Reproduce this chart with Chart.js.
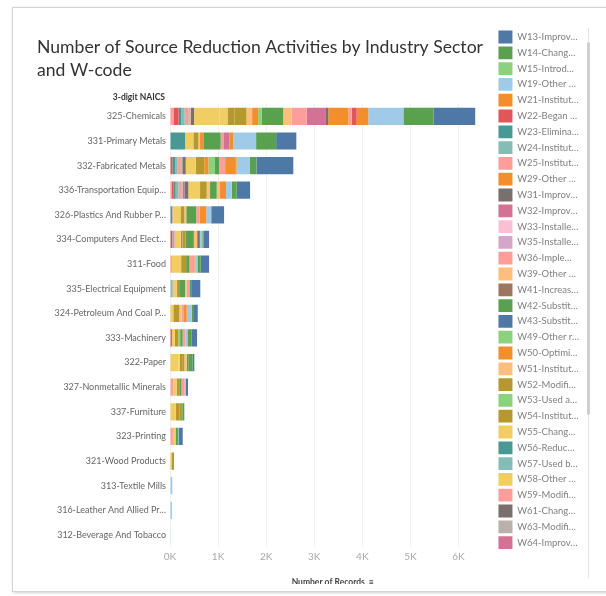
<!DOCTYPE html>
<html>
<head>
<meta charset="utf-8">
<title>Source Reduction Activities</title>
<script src="https://cdn.jsdelivr.net/npm/chart.js@4"></script>
<style>
  html, body { margin: 0; padding: 0; background: #fff; }
  body { width: 606px; height: 596px; overflow: hidden; position: relative; }
  .card { position: absolute; left: 12px; top: 7px; width: 640px; height: 583px;
          border: 1px solid #d3d3d3; box-shadow: 1px 1px 3px rgba(0,0,0,.18); background: #fff; }
  .plot { position: absolute; left: 14px; top: 9px; width: 592px; height: 575px; overflow: hidden; }
  .track { position: absolute; left: 588px; top: 28px; width: 1px; height: 550px; background: #e4e4e4; }
  .thumb { position: absolute; left: 587px; top: 42px; width: 3px; height: 373px; background: #cfcfcf; border-radius: 2px; }
</style>
</head>
<body>
<div class="card"></div>
<div class="plot"><canvas id="chart" width="592" height="582"></canvas></div>
<div class="track"></div>
<div class="thumb"></div>
<script>
// Industry sectors (3-digit NAICS), top to bottom
const sectors = [
    "325-Chemicals", "331-Primary Metals", "332-Fabricated Metals",
    "336-Transportation Equipment", "326-Plastics And Rubber Products",
    "334-Computers And Electronic Products", "311-Food", "335-Electrical Equipment",
    "324-Petroleum And Coal Products", "333-Machinery", "322-Paper",
    "327-Nonmetallic Minerals", "337-Furniture", "323-Printing", "321-Wood Products",
    "313-Textile Mills", "316-Leather And Allied Products", "312-Beverage And Tobacco"
];

// Source reduction W-codes, in legend order
const codes = [
    "W13", "W14", "W15", "W19", "W21", "W22", "W23", "W24", "W25", "W29",
    "W31", "W32", "W33", "W35", "W36", "W39", "W41", "W42", "W43", "W49",
    "W50", "W51", "W52", "W53", "W54", "W55", "W56", "W57", "W58", "W59",
    "W61", "W63", "W64", "W65", "W66", "W67", "W68", "W71", "W72", "W73",
    "W74", "W75", "W78", "W81", "W82", "W83", "W84", "W89"
];

const codeNames = [
    "Improved maintenance scheduling, recordkeeping, or procedures",
    "Changed production schedule to minimize changeovers",
    "Introduced in-line product quality monitoring",
    "Other changes in operating practices",
    "Instituted procedures to keep materials within shelf-life",
    "Began to test outdated material",
    "Eliminated shelf-life requirements for stable materials",
    "Instituted better labeling procedures",
    "Instituted clearinghouse to exchange materials",
    "Other changes in inventory control",
    "Improved storage or stacking procedures",
    "Improved procedures for loading, unloading and transfer",
    "Installed overflow alarms or automatic shut-off valves",
    "Installed vapor recovery systems",
    "Implemented inspection or monitoring program",
    "Other changes in spill and leak prevention",
    "Increased purity of raw materials",
    "Substituted raw materials",
    "Substituted a feedstock or reagent chemical",
    "Other raw material modifications",
    "Optimized reaction conditions",
    "Instituted recirculation within a process",
    "Modified equipment, layout, or piping",
    "Used a different process catalyst",
    "Instituted better controls on bulk containers",
    "Changed from small volume containers to bulk containers",
    "Reduced or eliminated use of an organic solvent",
    "Used biotechnology in manufacturing process",
    "Other process modifications",
    "Modified stripping/cleaning equipment",
    "Changed to aqueous cleaners",
    "Modified containment procedures for cleaning units",
    "Improved draining procedures",
    "Redesigned parts racks to reduce drag out",
    "Modified or installed rinse systems",
    "Improved rinse equipment design",
    "Improved rinse equipment operation",
    "Other cleaning and degreasing modifications",
    "Modified spray systems or equipment",
    "Substituted coating materials used",
    "Improved application techniques",
    "Changed from spray to other system",
    "Other surface preparation and finishing modifications",
    "Changed product specifications",
    "Modified design or composition of products",
    "Modified packaging",
    "Developed a new chemical product",
    "Other product modifications"
];

const codeColors = [
    "#4e79a7", "#59a14f", "#8cd17d", "#a0cbe8", "#f28e2b", "#e15759", "#499894", "#86bcb6", "#ff9d9a", "#f28e2b",
    "#79706e", "#d37295", "#fabfd2", "#d4a6c8", "#ff9d9a", "#ffbe7d", "#9d7660", "#59a14f", "#4e79a7", "#8cd17d",
    "#f28e2b", "#ffbe7d", "#b6992d", "#8cd17d", "#b6992d", "#f1ce63", "#499894", "#86bcb6", "#f1ce63", "#ff9d9a",
    "#79706e", "#bab0ac", "#d37295", "#fabfd2", "#b07aa1", "#d4a6c8", "#9d7660", "#d7b5a6", "#4e79a7", "#79706e",
    "#a0cbe8", "#b07aa1", "#d7b5a6", "#ff9d9a", "#86bcb6", "#499894", "#e15759", "#ff9d9a"
];

// Number of records per sector (same order as sectors)
const W13 = [869, 420, 764, 278, 267, 118, 174, 174, 96, 111, 34, 42, 0, 90, 0, 0, 0, 0];
const W14 = [625, 417, 139, 104, 0, 24, 69, 0, 30, 90, 83, 0, 40, 0, 0, 0, 0, 0];
const W15 = [0, 0, 0, 0, 0, 0, 0, 0, 0, 0, 0, 0, 0, 0, 0, 0, 0, 0];
const W19 = [729, 473, 277, 118, 104, 50, 41, 0, 104, 40, 0, 26, 0, 10, 0, 48, 42, 6];
const W21 = [242, 0, 30, 0, 0, 0, 20, 0, 0, 0, 0, 0, 0, 0, 0, 0, 0, 0];
const W22 = [104, 0, 0, 0, 0, 0, 0, 0, 0, 0, 0, 0, 0, 0, 0, 0, 0, 0];
const W23 = [0, 0, 0, 0, 0, 0, 0, 40, 0, 0, 0, 0, 0, 0, 0, 0, 0, 0];
const W24 = [0, 0, 0, 0, 0, 0, 0, 0, 0, 0, 0, 0, 0, 0, 0, 0, 0, 0];
const W25 = [71, 0, 0, 0, 0, 0, 0, 0, 0, 0, 0, 0, 0, 0, 0, 0, 0, 0];
const W29 = [417, 83, 208, 125, 139, 0, 0, 0, 55, 0, 0, 0, 0, 0, 0, 0, 0, 0];
const W31 = [48, 0, 0, 0, 0, 56, 0, 0, 0, 0, 0, 0, 0, 0, 0, 0, 0, 0];
const W32 = [402, 125, 0, 0, 0, 0, 0, 0, 0, 0, 0, 0, 0, 0, 0, 0, 0, 0];
const W33 = [0, 0, 0, 0, 0, 0, 0, 0, 0, 0, 0, 0, 0, 0, 0, 0, 0, 0];
const W35 = [0, 0, 0, 0, 0, 0, 0, 0, 0, 0, 0, 0, 0, 0, 0, 0, 0, 0];
const W36 = [313, 56, 125, 0, 69, 0, 104, 69, 50, 60, 0, 69, 0, 0, 0, 0, 0, 0];
const W39 = [175, 0, 0, 69, 0, 69, 0, 35, 0, 0, 0, 0, 0, 0, 0, 0, 0, 0];
const W41 = [0, 0, 0, 0, 0, 0, 0, 0, 0, 0, 0, 0, 0, 0, 0, 0, 0, 0];
const W42 = [450, 360, 98, 139, 208, 174, 69, 104, 0, 50, 40, 45, 25, 50, 0, 0, 0, 0];
const W43 = [0, 0, 0, 0, 0, 0, 0, 0, 0, 0, 0, 0, 0, 0, 0, 0, 0, 0];
const W49 = [71, 0, 125, 0, 0, 0, 0, 0, 0, 40, 0, 0, 0, 0, 0, 0, 0, 0];
const W50 = [125, 69, 83, 0, 0, 0, 0, 0, 0, 0, 0, 0, 0, 0, 0, 0, 0, 0];
const W51 = [117, 35, 0, 69, 40, 0, 0, 0, 48, 0, 50, 0, 0, 0, 0, 0, 0, 0];
const W52 = [246, 104, 181, 139, 81, 60, 0, 69, 125, 70, 45, 55, 40, 0, 53, 0, 0, 0];
const W53 = [0, 0, 0, 0, 0, 0, 0, 0, 0, 0, 0, 0, 0, 0, 0, 0, 0, 0];
const W54 = [150, 0, 0, 0, 0, 40, 104, 0, 0, 0, 50, 0, 70, 0, 0, 0, 0, 0];
const W55 = [160, 173, 0, 0, 0, 0, 0, 0, 0, 0, 30, 0, 40, 0, 0, 0, 0, 0];
const W56 = [0, 313, 0, 0, 0, 0, 0, 0, 0, 0, 0, 0, 0, 0, 0, 0, 0, 0];
const W57 = [0, 0, 0, 0, 0, 0, 0, 0, 0, 0, 0, 0, 0, 0, 0, 0, 0, 0];
const W58 = [535, 0, 208, 244, 150, 104, 190, 83, 69, 62, 174, 69, 83, 55, 30, 0, 0, 0];
const W59 = [0, 0, 0, 0, 0, 0, 0, 0, 0, 0, 0, 0, 0, 0, 0, 0, 0, 0];
const W61 = [0, 0, 0, 0, 0, 0, 0, 0, 0, 0, 0, 0, 0, 0, 0, 0, 0, 0];
const W63 = [0, 0, 0, 0, 0, 0, 0, 0, 0, 0, 0, 0, 0, 0, 0, 0, 0, 0];
const W64 = [0, 0, 0, 0, 0, 0, 0, 0, 0, 0, 0, 0, 0, 0, 0, 0, 0, 0];
const W65 = [0, 0, 0, 0, 0, 0, 0, 0, 0, 0, 0, 0, 0, 0, 0, 0, 0, 0];
const W66 = [0, 0, 0, 0, 0, 0, 0, 0, 0, 0, 0, 0, 0, 0, 0, 0, 0, 0];
const W67 = [0, 0, 0, 0, 0, 0, 0, 0, 0, 0, 0, 0, 0, 0, 0, 0, 0, 0];
const W68 = [0, 0, 0, 0, 0, 0, 0, 0, 0, 0, 0, 0, 0, 0, 0, 0, 0, 0];
const W71 = [0, 0, 0, 0, 25, 0, 0, 0, 0, 0, 0, 0, 0, 0, 0, 0, 0, 0];
const W72 = [0, 0, 0, 0, 0, 0, 0, 0, 0, 0, 0, 0, 0, 0, 0, 0, 0, 0];
const W73 = [69, 0, 71, 73, 0, 0, 0, 0, 0, 0, 0, 0, 0, 0, 0, 0, 0, 0];
const W74 = [0, 0, 0, 0, 0, 0, 0, 0, 0, 0, 0, 0, 0, 0, 0, 0, 0, 0];
const W75 = [0, 0, 0, 40, 0, 0, 0, 0, 0, 0, 0, 0, 0, 0, 0, 0, 0, 0];
const W78 = [56, 0, 48, 40, 0, 0, 0, 0, 0, 0, 0, 0, 0, 0, 0, 0, 0, 0];
const W81 = [69, 0, 56, 50, 0, 30, 42, 0, 0, 0, 0, 69, 0, 60, 0, 0, 0, 0];
const W82 = [69, 0, 42, 60, 0, 40, 0, 56, 0, 0, 0, 0, 0, 0, 0, 0, 0, 0];
const W83 = [56, 0, 62, 40, 42, 0, 0, 0, 0, 0, 0, 0, 0, 0, 0, 0, 0, 0];
const W84 = [98, 0, 48, 48, 0, 48, 0, 0, 0, 40, 0, 0, 0, 0, 0, 0, 0, 0];
const W89 = [83, 0, 0, 30, 0, 0, 0, 0, 0, 0, 0, 0, 0, 0, 0, 0, 0, 0];

const seriesValues = [
    W13, W14, W15, W19, W21, W22, W23, W24, W25, W29,
    W31, W32, W33, W35, W36, W39, W41, W42, W43, W49,
    W50, W51, W52, W53, W54, W55, W56, W57, W58, W59,
    W61, W63, W64, W65, W66, W67, W68, W71, W72, W73,
    W74, W75, W78, W81, W82, W83, W84, W89
];

// Axis ticks on the record count
const xTicks = [0, 1000, 2000, 3000, 4000, 5000, 6000];
const xMax = 6770;

// Only the first 33 codes fit in the legend panel
const legendShown = 33;

const family = "Lato, 'Open Sans', sans-serif";
const labelFont = { family: family, size: 9.5 };
const sectorFont = { family: family, size: 9 };

// Cut a label down to a pixel width, ending in an ellipsis
const clip = (ctx, text, font, maxWidth) => {
    ctx.save();
    ctx.font = font.size + "px " + font.family;
    let s = text;
    if (ctx.measureText(s).width > maxWidth) {
        while (s.length > 1 && ctx.measureText(s + "…").width > maxWidth) s = s.slice(0, -1);
        s += "…";
    }
    ctx.restore();
    return s;
};

// First code stacks at the right end of each bar, so datasets go in reverse
const datasets = codes.map((code, i) => ({
    label: code + "-" + codeNames[i],
    data: seriesValues[i],
    backgroundColor: codeColors[i],
    borderWidth: 0,
    barPercentage: 0.7,
    categoryPercentage: 1
})).reverse();

// Small header above the sector labels
const axisHeader = {
    id: "axisHeader",
    afterDraw(chart) {
        const { ctx, chartArea } = chart;
        ctx.save();
        ctx.font = "bold 8.5px " + family;
        ctx.fillStyle = "#333";
        ctx.textAlign = "right";
        ctx.textBaseline = "middle";
        ctx.fillText("3-digit NAICS", chartArea.left - 5, chartArea.top - 7);
        ctx.restore();
    }
};

new Chart(document.getElementById("chart"), {
    type: "bar",
    plugins: [axisHeader],
    data: { labels: sectors, datasets: datasets },
    options: {
        indexAxis: "y",
        responsive: false,
        animation: false,
        layout: { padding: { left: 23, top: 18.6, right: 17, bottom: 1.6 } },
        scales: {
            x: {
                stacked: true,
                min: 0,
                max: xMax,
                grid: { color: "#f1f1f1", drawTicks: false },
                border: { display: false },
                afterBuildTicks: (scale) => { scale.ticks = xTicks.map((v) => ({ value: v })); },
                ticks: {
                    maxRotation: 0,
                    padding: 4,
                    color: "#a8a8a8",
                    font: { family: family, size: 10 },
                    callback: (v) => v / 1000 + "K"
                },
                title: {
                    display: true,
                    text: "Number of Records  ≡",
                    color: "#444",
                    font: { family: family, size: 8.5, weight: "bold" },
                    padding: { top: 10, bottom: 2 }
                }
            },
            y: {
                stacked: true,
                grid: { display: false, drawTicks: false },
                border: { display: false },
                afterFit: (scale) => { scale.width = 133; },
                ticks: {
                    autoSkip: false,
                    padding: 4,
                    color: "#666",
                    font: sectorFont,
                    callback: function (v, i) { return clip(this.chart.ctx, sectors[i], sectorFont, 112); }
                }
            }
        },
        plugins: {
            tooltip: { enabled: false },
            title: {
                display: true,
                align: "start",
                text: ["Number of Source Reduction Activities by Industry Sector", "and W-code"],
                color: "#333",
                font: { family: family, size: 17.6, weight: "normal", lineHeight: 1.32 },
                padding: { top: 8, bottom: 22 }
            },
            legend: {
                position: "right",
                align: "start",
                reverse: true,
                labels: {
                    boxWidth: 14,
                    boxHeight: 12.8,
                    padding: 3,
                    color: "#808080",
                    font: labelFont,
                    filter: (item) => codes.length - 1 - item.datasetIndex < legendShown,
                    generateLabels: (chart) => Chart.defaults.plugins.legend.labels.generateLabels(chart)
                        .map((item) => Object.assign(item, { text: clip(chart.ctx, item.text, labelFont, 62), lineWidth: 0 }))
                }
            }
        }
    }
});
</script>
</body>
</html>
